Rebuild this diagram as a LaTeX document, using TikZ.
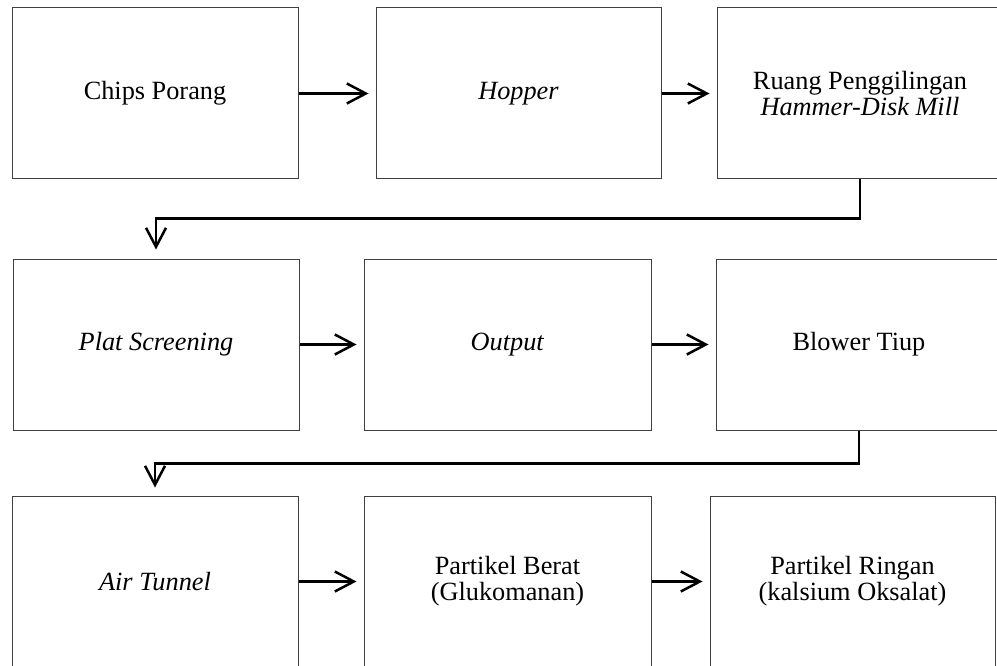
\documentclass[tikz,border=0pt]{standalone}
\usepackage{fontspec}
\setmainfont{Liberation Serif}
\usetikzlibrary{arrows.meta}
\begin{document}
\begin{tikzpicture}[x=1pt,y=-1pt,
  box/.style={draw=black!75,line width=1pt,minimum height=171pt,inner sep=0pt,
    align=center,font=\fontsize{26.3}{26}\selectfont},
  arr/.style={draw=black,line width=2.5pt,
    -{Straight Barb[length=19pt,width=20pt,line width=2.5pt]}}]
\useasboundingbox (0,0) rectangle (997,666);
\node[box,minimum width=286pt] (b1) at (155,93.5) {Chips Porang};
\node[box,minimum width=285pt] (b2) at (518.5,93.5) {\textit{Hopper}};
\node[box,minimum width=286pt] (b3) at (860,93.5) {Ruang Penggilingan\\\textit{Hammer-Disk Mill}};
\node[box,minimum width=286pt] (b4) at (156,344.5) {\textit{Plat Screening}};
\node[box,minimum width=287pt] (b5) at (507.5,344.5) {\textit{Output}};
\node[box,minimum width=286pt] (b6) at (859,344.5) {Blower Tiup};
\node[box,minimum width=286pt] (b7) at (155,581.5) {\textit{Air Tunnel}};
\node[box,minimum width=287pt] (b8) at (507.5,581.5) {Partikel Berat\\(Glukomanan)};
\node[box,minimum width=285pt] (b9) at (852.5,581.5) {Partikel Ringan\\(kalsium Oksalat)};
\draw[arr,shorten >=7pt] (b1) -- (b2);
\draw[arr,shorten >=7pt] (b2) -- (b3);
\draw[arr,shorten >=7pt] (b4) -- (b5);
\draw[arr,shorten >=7pt] (b5) -- (b6);
\draw[arr,shorten >=7pt] (b7) -- (b8);
\draw[arr,shorten >=7pt] (b8) -- (b9);
\draw[arr,shorten >=9pt] (b3.south) -- ++(0,39) -| (b4.north);
\draw[arr,shorten >=8pt] (b6.south) -- ++(0,33) -| (b7.north);
\end{tikzpicture}
\end{document}
